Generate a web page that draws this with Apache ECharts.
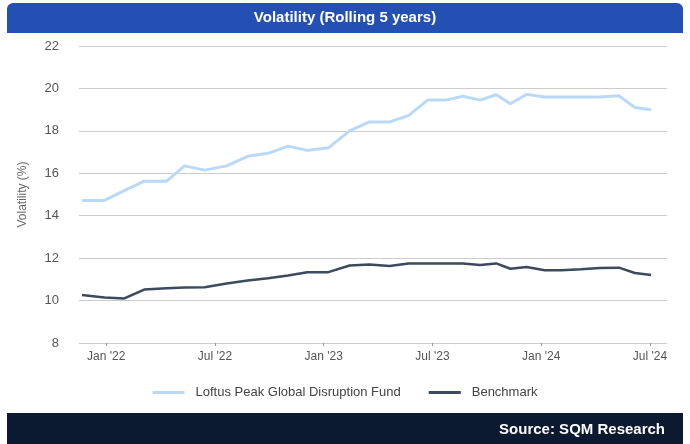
<!DOCTYPE html>
<html>
<head>
    <meta charset="utf-8">
    <script src="https://cdn.jsdelivr.net/npm/echarts@6/dist/echarts.min.js"></script>
    <style>
        html, body { margin: 0; padding: 0; background: #ffffff; }
        #chart { width: 690px; height: 444px; }
    </style>
</head>
<body>
    <div id="chart"></div>
    <script>
        const dates = [
            '2021-11-21', '2021-12-29', '2022-02-01', '2022-03-04', '2022-04-11', '2022-05-11',
            '2022-06-14', '2022-07-21', '2022-08-26', '2022-09-29', '2022-11-02', '2022-12-04',
            '2023-01-09', '2023-02-13', '2023-03-17', '2023-04-20', '2023-05-22', '2023-06-23',
            '2023-07-24', '2023-08-22', '2023-09-20', '2023-10-17', '2023-11-10', '2023-12-07',
            '2024-01-07', '2024-02-04', '2024-03-07', '2024-04-08', '2024-05-10', '2024-06-06',
            '2024-07-03'
        ];
        const fund = [
            14.72, 14.72, 15.18, 15.63, 15.63, 16.35,
            16.15, 16.35, 16.8, 16.94, 17.28, 17.08,
            17.2, 18.0, 18.42, 18.42, 18.72, 19.45,
            19.45, 19.63, 19.45, 19.7, 19.28, 19.72,
            19.6, 19.6, 19.6, 19.6, 19.65, 19.1,
            19.0
        ];
        const benchmark = [
            10.26, 10.15, 10.1, 10.52, 10.58, 10.62,
            10.63, 10.8, 10.95, 11.05, 11.18, 11.34,
            11.34, 11.65, 11.7, 11.63, 11.75, 11.75,
            11.75, 11.75, 11.68, 11.75, 11.5, 11.58,
            11.43, 11.43, 11.48, 11.53, 11.55, 11.3,
            11.2
        ];
        const tickMonths = [0, 6, 12, 18, 24, 30];   // months after Jan 2022
        const tickLabels = ["Jan '22", "Jul '22", "Jan '23", "Jul '23", "Jan '24", "Jul '24"];

        // date -> months since 1 Jan 2022 (fractional)
        function monthIndex(s) {
            const p = s.split('-').map(Number);
            const days = new Date(p[0], p[1], 0).getDate();
            return (p[0] - 2022) * 12 + (p[1] - 1) + (p[2] - 1) / days;
        }
        const xs = dates.map(monthIndex);

        const chart = echarts.init(document.getElementById('chart'));
        const option = {
            backgroundColor: '#ffffff',
            animation: false,
            textStyle: { fontFamily: 'Liberation Sans, Arial, sans-serif' },
            graphic: [
                {
                    type: 'rect',
                    shape: { x: 7, y: 3, width: 676, height: 30, r: [6, 6, 0, 0] },
                    style: { fill: '#2450b4' }
                },
                {
                    type: 'text',
                    x: 345, y: 18,
                    style: {
                        text: 'Volatility (Rolling 5 years)',
                        fill: '#ffffff',
                        font: 'bold 15px Liberation Sans, Arial, sans-serif',
                        align: 'center',
                        verticalAlign: 'middle'
                    }
                },
                {
                    type: 'rect',
                    shape: { x: 7, y: 413, width: 676, height: 31 },
                    style: { fill: '#0b1a30' }
                },
                {
                    type: 'text',
                    x: 665, y: 430,
                    style: {
                        text: 'Source: SQM Research',
                        fill: '#ffffff',
                        font: 'bold 15px Liberation Sans, Arial, sans-serif',
                        align: 'right',
                        verticalAlign: 'middle'
                    }
                }
            ],
            legend: {
                left: 'center',
                top: 381,
                icon: 'rect',
                itemWidth: 32,
                itemHeight: 3,
                itemGap: 28,
                textStyle: { color: '#444444', fontSize: 13, padding: [0, 0, 0, 6] },
                data: ['Loftus Peak Global Disruption Fund', 'Benchmark']
            },
            grid: { left: 79, right: 23, top: 46, bottom: 101 },
            xAxis: {
                type: 'value',
                min: -1.5,
                max: 30.94,
                axisLine: { show: false },
                splitLine: { show: false },
                axisTick: {
                    show: true,
                    customValues: tickMonths,
                    length: 3,
                    lineStyle: { color: '#999999' }
                },
                axisLabel: {
                    customValues: tickMonths,
                    color: '#555555',
                    fontSize: 12,
                    margin: 8,
                    formatter: function (v) {
                        const i = tickMonths.indexOf(Math.round(v));
                        return i >= 0 ? tickLabels[i] : '';
                    }
                }
            },
            yAxis: {
                type: 'value',
                min: 8,
                max: 22,
                interval: 2,
                name: 'Volatility (%)',
                nameLocation: 'middle',
                nameGap: 50,
                nameRotate: 90,
                nameTextStyle: { color: '#666666', fontSize: 12 },
                axisLine: { show: false },
                axisTick: { show: false },
                axisLabel: { color: '#555555', fontSize: 13, margin: 20 },
                splitLine: { lineStyle: { color: '#cccccc', width: 1 } }
            },
            series: [
                {
                    name: 'Loftus Peak Global Disruption Fund',
                    type: 'line',
                    symbol: 'none',
                    data: xs.map((x, i) => [x, fund[i]]),
                    lineStyle: { color: '#b9d9f6', width: 3 },
                    itemStyle: { color: '#b9d9f6' }
                },
                {
                    name: 'Benchmark',
                    type: 'line',
                    symbol: 'none',
                    data: xs.map((x, i) => [x, benchmark[i]]),
                    lineStyle: { color: '#3b4a5d', width: 2.5 },
                    itemStyle: { color: '#3b4a5d' }
                }
            ]
        };
        chart.setOption(option);
    </script>
</body>
</html>
